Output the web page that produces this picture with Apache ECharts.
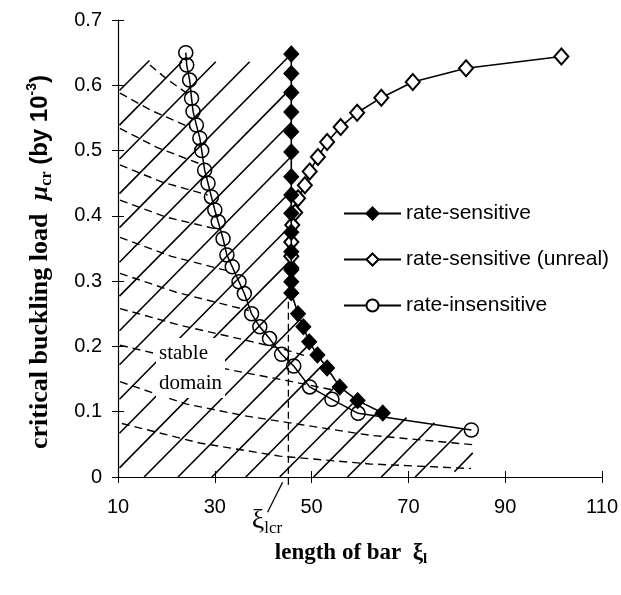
<!DOCTYPE html>
<html><head><meta charset="utf-8">
<script src="https://cdn.jsdelivr.net/npm/echarts@6/dist/echarts.min.js"></script>
<style>html,body{margin:0;padding:0;background:#fff}#c{width:621px;height:595px}</style>
</head><body><div id="c"></div>
<script>
// ---- data ----
const xTicks = [10, 30, 50, 70, 90, 110];
const yTicks = [0, 0.1, 0.2, 0.3, 0.4, 0.5, 0.6, 0.7];
const xiCr = 45.2;

const rateSensitive = [[45.8,0.648],[45.8,0.618],[45.8,0.589],[45.8,0.559],[45.8,0.529],[45.8,0.498],[45.8,0.46],[45.8,0.432],[45.8,0.404],[45.8,0.375],[45.8,0.345],[45.8,0.317],[45.8,0.299],[45.8,0.282],[47.2,0.25],[48.3,0.23],[49.5,0.207],[51.2,0.187],[53.2,0.167],[55.8,0.138],[59.5,0.117],[64.7,0.098]];
const rateSensitiveUnreal = [[45.8,0.32],[45.8,0.338],[45.8,0.36],[46.0,0.386],[46.6,0.405],[47.2,0.427],[48.6,0.447],[49.6,0.468],[51.3,0.49],[53.2,0.513],[56,0.536],[59.4,0.558],[64.4,0.581],[70.9,0.605],[81.9,0.626],[101.6,0.644]];
const rateInsensitive = [[24.0,0.65],[24.2,0.631],[24.8,0.608],[25.2,0.58],[25.5,0.56],[26.2,0.539],[26.9,0.519],[27.3,0.5],[27.9,0.47],[28.6,0.45],[29.3,0.429],[30,0.409],[30.7,0.391],[31.7,0.365],[32.5,0.34],[33.6,0.322],[35,0.299],[36.1,0.281],[37.6,0.25],[39.3,0.23],[41.3,0.212],[43.8,0.188],[46.3,0.17],[49.6,0.138],[54.2,0.119],[59.6,0.0975],[83,0.072]];

// hatch: solid diagonal segments [x1,y1,x2,y2]
const hatchSolid = [
 [10.3,0.592,16.5,0.638],[10.3,0.539,23.2,0.636],[10.3,0.487,30.2,0.636],[10.3,0.434,37.2,0.636],
 [10.3,0.382,45.8,0.648],[10.3,0.329,45.8,0.596],[10.3,0.277,45.8,0.543],[10.3,0.224,45.8,0.491],
 [10.3,0.172,45.8,0.438],[10.3,0.119,45.8,0.386],[10.3,0.067,45.8,0.333],[10.3,0.014,45.8,0.281],
 [15.4,0.0,47.7,0.242],[22.4,0.0,49.6,0.204],[29.4,0.0,52.2,0.171],[36.4,0.0,55.2,0.141],
 [43.4,0.0,59.2,0.118],[50.4,0.0,63.6,0.099],[57.4,0.0,69.6,0.091],[64.4,0.0,75.4,0.083],
 [71.4,0.0,81.3,0.074],[79.5,0.008,83.3,0.037]
];
// hatch: dashed curves
const hatchDashed = [
 [[16.6,0.631],[20,0.61],[24.2,0.588]],
 [[10.4,0.588],[17,0.561],[25.0,0.535]],
 [[10.4,0.534],[18,0.505],[26.8,0.48]],
 [[10.4,0.478],[19,0.452],[28.5,0.432]],
 [[10.4,0.424],[20,0.398],[30.2,0.38]],
 [[10.4,0.367],[21,0.338],[33,0.315]],
 [[10.4,0.312],[22,0.283],[37,0.255]],
 [[10.4,0.258],[23,0.232],[35,0.212],[44,0.196],[49,0.185]],
 [[10.4,0.202],[24,0.178],[36,0.16],[46,0.146],[54,0.134]],
 [[10.4,0.146],[24,0.112],[36,0.094],[48,0.08],[62,0.064],[84,0.049]],
 [[10.8,0.082],[26.9,0.052],[43.4,0.032],[62,0.02],[82.9,0.013]]
];
const leader = [[44.0,-0.008],[40.9,-0.054]];

// ---- chart ----
const chart = echarts.init(document.getElementById('c'));
const serif = '"Liberation Serif", "Times New Roman", serif';
const sans = '"Liberation Sans", Arial, sans-serif';
const baseX = {type:'value', min:10, max:110, axisLine:{show:true,lineStyle:{color:'#000',width:1.2}}, splitLine:{show:false}};
const baseY = {type:'value', min:0, max:0.7, interval:0.1, axisLine:{show:true,lineStyle:{color:'#000',width:1.2}}, splitLine:{show:false}};
chart.setOption({
  animation:false,
  backgroundColor:'#fff',
  grid:{left:118,right:18,top:20,bottom:118},
  xAxis:[
    Object.assign({}, baseX, {position:'bottom',
      axisTick:{show:true,length:6,customValues:xTicks,lineStyle:{color:'#000'}},
      axisLabel:{customValues:xTicks,color:'#000',fontFamily:sans,fontSize:20,margin:20}}),
    Object.assign({}, baseX, {position:'bottom',axisLine:{show:false},
      axisTick:{show:true,inside:true,length:6,customValues:xTicks,lineStyle:{color:'#000'}},
      axisLabel:{show:false}})
  ],
  yAxis:[
    Object.assign({}, baseY, {axisTick:{show:true,length:6,lineStyle:{color:'#000'}},
      axisLabel:{color:'#000',fontFamily:sans,fontSize:20,margin:16,formatter:v=>String(+v.toFixed(1))}}),
    Object.assign({}, baseY, {position:'left',axisLine:{show:false},
      axisTick:{show:true,inside:true,length:6,lineStyle:{color:'#000'}},axisLabel:{show:false}})
  ],
  legend:{
    orient:'vertical', left:338, top:198, itemWidth:57, itemHeight:15, itemGap:25,
    textStyle:{color:'#000',fontFamily:sans,fontSize:21},
    data:[
      {name:'rate-sensitive'},
      {name:'rate-sensitive (unreal)'},
      {name:'rate-insensitive', itemStyle:{color:'#fff'}}
    ]
  },
  graphic:[
    {type:'text', x:40, y:262, rotation:Math.PI/2, z:100,
     style:{text:'{a|critical buckling load}    {m|μ}{s|cr}  {b|(by 10}{p|-3}{b|)}',
       align:'center', verticalAlign:'middle', fill:'#000',
       rich:{a:{fontFamily:serif,fontWeight:'bold',fontSize:26,fill:'#000'},
             m:{fontFamily:serif,fontStyle:'italic',fontWeight:'bold',fontSize:26,fill:'#000'},
             s:{fontFamily:serif,fontWeight:'bold',fontSize:16,fill:'#000',verticalAlign:'bottom',lineHeight:30},
             b:{fontFamily:sans,fontWeight:'bold',fontSize:24,fill:'#000'},
             p:{fontFamily:sans,fontWeight:'bold',fontSize:14,fill:'#000',verticalAlign:'top',lineHeight:30}}}},
    {type:'text', x:351, y:553, z:100,
     style:{text:'{a|length of bar  ξ}{s|l}', align:'center', verticalAlign:'middle', fill:'#000',
       rich:{a:{fontFamily:serif,fontWeight:'bold',fontSize:23,fill:'#000'},
             s:{fontFamily:serif,fontWeight:'bold',fontSize:15,fill:'#000',verticalAlign:'bottom',lineHeight:28}}}},
    {type:'text', x:267, y:521, z:100,
     style:{text:'{x|ξ}{s|lcr}', align:'center', verticalAlign:'middle', fill:'#000',
       rich:{x:{fontFamily:serif,fontSize:28,fill:'#000'},
             s:{fontFamily:serif,fontSize:17,fill:'#000',verticalAlign:'bottom',lineHeight:32}}}},
    {type:'text', x:156, y:368, z:100,
     style:{text:'stable\ndomain', fill:'#000', font:'21px "Liberation Serif", serif', lineHeight:30,
       align:'left', verticalAlign:'middle', backgroundColor:'#fff', padding:[0,3,0,3]}}
  ],
  series:[
    {type:'lines', coordinateSystem:'cartesian2d', silent:true, z:1,
     lineStyle:{color:'#000',width:1.6,opacity:1},
     data:hatchSolid.map(s=>({coords:[[s[0],s[1]],[s[2],s[3]]]}))},
    {type:'lines', coordinateSystem:'cartesian2d', polyline:true, silent:true, z:1,
     lineStyle:{color:'#000',width:1.4,type:[8,5],opacity:1},
     data:hatchDashed.map(p=>({coords:p}))},
    {type:'line', silent:true, z:1, symbol:'none', clip:false,
     lineStyle:{color:'#000',width:1.3,type:[7,4]},
     data:[[xiCr,-0.012],[xiCr,0.28]]},
    {type:'line', silent:true, z:1, symbol:'none', clip:false,
     lineStyle:{color:'#000',width:1.3}, data:leader},
    {name:'rate-insensitive', type:'line', z:3, data:rateInsensitive, symbol:'circle', symbolSize:14,
     lineStyle:{color:'#000',width:1.5}, itemStyle:{color:'rgba(255,255,255,0)',borderColor:'#000',borderWidth:1.5}},
    {name:'rate-sensitive (unreal)', type:'line', z:4, data:rateSensitiveUnreal, symbol:'diamond', symbolSize:[14,16],
     lineStyle:{color:'#000',width:1.6}, itemStyle:{color:'#fff',borderColor:'#000',borderWidth:2}},
    {name:'rate-sensitive', type:'line', z:5, data:rateSensitive, symbol:'diamond', symbolSize:[15,16],
     lineStyle:{color:'#000',width:1.6}, itemStyle:{color:'#000',borderColor:'#000',borderWidth:1}}
  ]
});
</script></body></html>
